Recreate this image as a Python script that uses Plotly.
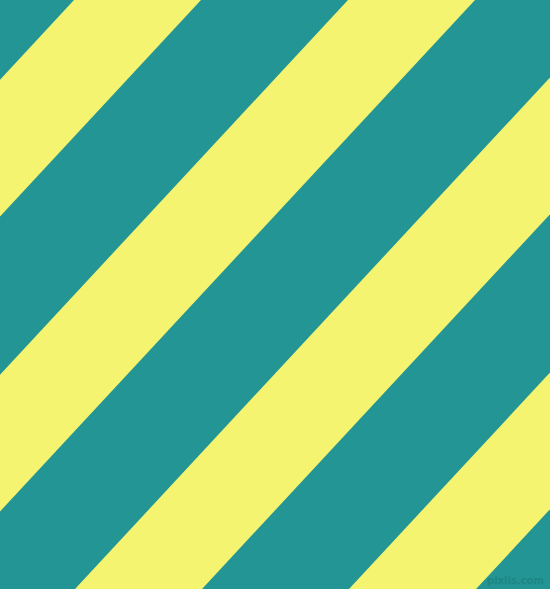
import plotly.graph_objects as go

# diagonal stripe pattern: yellow bands on teal
W = 550
H = 589
stripe_left = [74, 348, 622, 896]   # x where each yellow band starts on the top edge
stripe_width = 127                  # horizontal width of a yellow band
drift = 547                         # how far a band moves left from top to bottom
teal = "#239594"
yellow = "#f5f471"

fig = go.Figure()
for x0 in stripe_left:
    xs = [x0, x0 + stripe_width, x0 + stripe_width - drift, x0 - drift, x0]
    ys = [0, 0, H, H, 0]
    fig.add_trace(go.Scatter(x=xs, y=ys, fill="toself", fillcolor=yellow,
                             mode="lines", line=dict(width=0, color=yellow),
                             hoverinfo="skip", showlegend=False))

fig.add_annotation(x=546, y=580, text="<b>pixlis.com</b>", showarrow=False,
                   xanchor="right", yanchor="middle",
                   font=dict(family="DejaVu Sans", size=10, color="#1d8685"))

fig.update_xaxes(range=[0, W], visible=False, fixedrange=True)
fig.update_yaxes(range=[H, 0], visible=False, fixedrange=True)
fig.update_layout(width=W, height=H, margin=dict(l=0, r=0, t=0, b=0),
                  paper_bgcolor=teal, plot_bgcolor=teal)
fig.write_html("out.html", config={"displayModeBar": False},
               post_script="document.body.style.margin='0';document.body.style.overflow='hidden';")
